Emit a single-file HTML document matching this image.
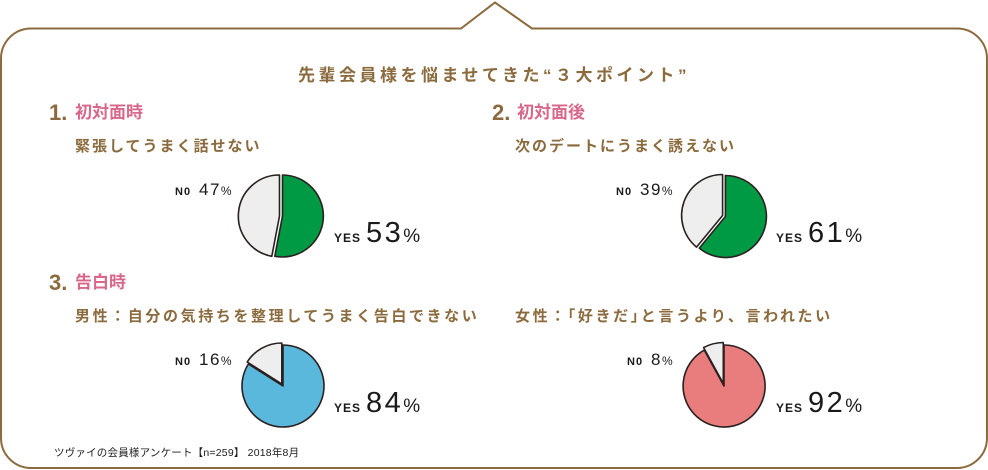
<!DOCTYPE html>
<html><head><meta charset="utf-8"><style>
html,body{margin:0;padding:0;background:#fff;}
svg{display:block;}
text{font-family:"Liberation Sans","Noto Sans CJK JP",sans-serif;}
.b{fill:#8b6b3d;font-weight:bold;}
.p{fill:#d9678a;font-weight:bold;}
.k{fill:#1a1a1a;}
</style></head><body>
<svg width="988" height="470" viewBox="0 0 988 470" xmlns="http://www.w3.org/2000/svg">
<path d="M31,28.5 H461 L495,2.5 L532,28.5 H957 A30,30 0 0 1 987,58.5 V438 A30,30 0 0 1 957,468 H31 A30,30 0 0 1 1,438 V58.5 A30,30 0 0 1 31,28.5 Z" fill="#fff" stroke="#8b6b3d" stroke-width="2"/>
<text x="494" y="81" text-anchor="middle" class="b" font-size="17" letter-spacing="3.5">先輩会員様を悩ませてきた“３大ポイント”</text>

<text x="49" y="120" class="b" font-size="22">1.</text><text x="75" y="118" class="p" font-size="17">初対面時</text>
<text x="75" y="151" class="b" font-size="15" letter-spacing="2">緊張してうまく話せない</text>
<text x="492" y="120" class="b" font-size="22">2.</text><text x="517" y="118" class="p" font-size="17">初対面後</text>
<text x="515" y="151" class="b" font-size="15" letter-spacing="2">次のデートにうまく誘えない</text>
<text x="49" y="290" class="b" font-size="22">3.</text><text x="75" y="288" class="p" font-size="17">告白時</text>
<text x="75" y="321" class="b" font-size="15" letter-spacing="2.6">男性：自分の気持ちを整理してうまく告白できない</text>
<text x="515" y="321" class="b" font-size="15" letter-spacing="2.6">女性：｢好きだ｣と言うより、言われたい</text>

<g stroke="#2a2020" stroke-width="1.6" stroke-linejoin="round">
<path transform="translate(-1.5,0)" d="M281,216 L281,175 A41,41 0 0 0 273.3,256.3 Z" fill="#eeeeee"/>
<path transform="translate(1.5,0)" d="M281,216 L281,175 A41,41 0 1 1 273.3,256.3 Z" fill="#009a44"/>
<path transform="translate(-1.4,-0.5)" d="M724,216 L724,175 A41,41 0 0 0 697.9,247.6 Z" fill="#eeeeee"/>
<path transform="translate(1.4,0.5)" d="M724,216 L724,175 A41,41 0 1 1 697.9,247.6 Z" fill="#009a44"/>
<path transform="translate(-1.2,-2)" d="M283,386 L283,345 A41,41 0 0 0 248.4,364 Z" fill="#eeeeee"/>
<path d="M283,386 L283,345 A41,41 0 1 1 248.4,364 Z" fill="#5ab8dc"/>
<path transform="translate(-0.7,-2.5)" d="M724,386 L724,345 A41,41 0 0 0 704.3,350.1 Z" fill="#eeeeee"/>
<path d="M724,386 L724,345 A41,41 0 1 1 704.3,350.1 Z" fill="#e97c7c"/>
</g>

<g class="k">
<text x="175" y="195" font-size="11" font-weight="bold" letter-spacing="1">N0</text><text x="199" y="195" font-size="17" letter-spacing="1.5">47<tspan font-size="12">%</tspan></text>
<text x="334" y="242" font-size="12" font-weight="bold" letter-spacing="1">YES</text><text x="366" y="242" font-size="29" letter-spacing="2.5">53<tspan font-size="19">%</tspan></text>
<text x="616" y="195" font-size="11" font-weight="bold" letter-spacing="1">N0</text><text x="640" y="195" font-size="17" letter-spacing="1.5">39<tspan font-size="12">%</tspan></text>
<text x="776" y="242" font-size="12" font-weight="bold" letter-spacing="1">YES</text><text x="808" y="242" font-size="29" letter-spacing="2.5">61<tspan font-size="19">%</tspan></text>
<text x="175" y="365" font-size="11" font-weight="bold" letter-spacing="1">N0</text><text x="199" y="365" font-size="17" letter-spacing="1.5">16<tspan font-size="12">%</tspan></text>
<text x="334" y="412" font-size="12" font-weight="bold" letter-spacing="1">YES</text><text x="366" y="412" font-size="29" letter-spacing="2.5">84<tspan font-size="19">%</tspan></text>
<text x="627" y="365" font-size="11" font-weight="bold" letter-spacing="1">N0</text><text x="651" y="365" font-size="17" letter-spacing="1.5">8<tspan font-size="12">%</tspan></text>
<text x="776" y="412" font-size="12" font-weight="bold" letter-spacing="1">YES</text><text x="808" y="412" font-size="29" letter-spacing="2.5">92<tspan font-size="19">%</tspan></text>
<text x="54" y="456" font-size="10.5" letter-spacing="0.2">ツヴァイの会員様アンケート【n=259】 2018年8月</text>
</g>
</svg>
</body></html>
